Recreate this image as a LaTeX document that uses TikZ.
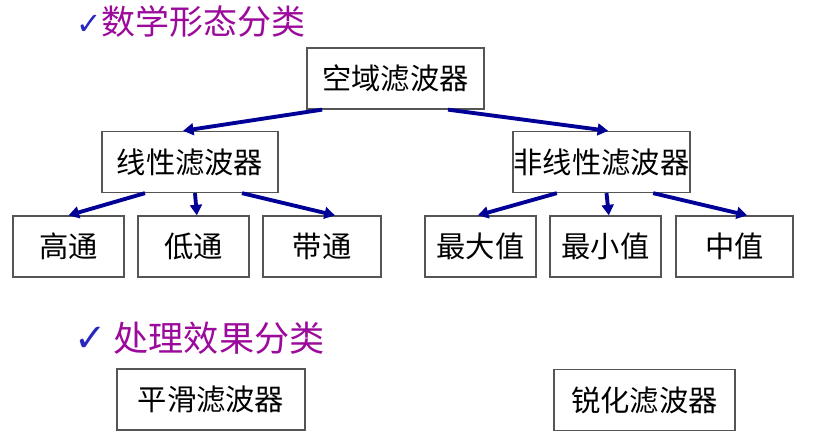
\documentclass[tikz,border=0pt]{standalone}
\usepackage{fontspec}
\setmainfont{Noto Sans CJK SC}
\newfontfamily\symfont{DejaVu Sans}
\usetikzlibrary{arrows.meta}

\definecolor{navyline}{RGB}{0,0,150}
\definecolor{titlepurple}{RGB}{155,10,155}
\definecolor{tickblue}{RGB}{40,40,190}
\definecolor{boxgray}{RGB}{85,85,85}

\tikzset{
    filterbox/.style={draw=boxgray,line width=1.1pt,minimum height=1.83cm,
        inner sep=0pt,font=\fontsize{25}{29}\selectfont},
    branch/.style={-{Triangle[length=9pt,width=10pt]},draw=navyline,
        line width=3.3pt},
}

\begin{document}
\begin{tikzpicture}[x=0.03cm,y=-0.03cm]
    \useasboundingbox (0,0) rectangle (814,445);

    % heading of the first classification
    \node[anchor=west,inner sep=0pt] (title-shape) at (76,22)
        {\textcolor{tickblue}{\symfont\fontsize{26}{30}\selectfont ✓}%
         \textcolor{titlepurple}{\fontsize{29}{33}\selectfont 数学形态分类}};

    \node[filterbox,minimum width=5.31cm] (spatial) at (395.5,78.5) {空域滤波器};
    \node[filterbox,minimum width=5.28cm] (linear) at (190,162) {线性滤波器};
    \node[filterbox,minimum width=5.31cm] (nonlinear) at (601.5,162) {非线性滤波器};

    \node[filterbox,minimum width=3.33cm] (highpass) at (68.5,246.5) {高通};
    \node[filterbox,minimum width=3.33cm] (lowpass) at (193.5,246.5) {低通};
    \node[filterbox,minimum width=3.54cm] (bandpass) at (322,246.5) {带通};

    \node[filterbox,minimum width=3.33cm] (maxval) at (480.5,246.5) {最大值};
    \node[filterbox,minimum width=3.33cm] (minval) at (605.5,246.5) {最小值};
    \node[filterbox,minimum width=3.51cm] (medval) at (734.5,246.5) {中值};

    \draw[branch] ([xshift=-2.2cm]spatial.south) -- ([xshift=-0.21cm]linear.north);
    \draw[branch] ([xshift=1.575cm]spatial.south) -- ([xshift=0.2cm]nonlinear.north);

    \draw[branch] ([xshift=-1.35cm]linear.south) -- (highpass.north);
    \draw[branch] ([xshift=0.15cm]linear.south) -- ([xshift=0.1cm]lowpass.north);
    \draw[branch] ([xshift=1.56cm]linear.south) -- ([xshift=0.39cm]bandpass.north);

    \draw[branch] ([xshift=-1.34cm]nonlinear.south) -- ([xshift=-0.08cm]maxval.north);
    \draw[branch] ([xshift=0.15cm]nonlinear.south) -- ([xshift=0.1cm]minval.north);
    \draw[branch] ([xshift=1.55cm]nonlinear.south) -- ([xshift=0.38cm]medval.north);

    % heading of the second classification
    \node[anchor=west,inner sep=0pt] (title-effect) at (74,338)
        {\textcolor{tickblue}{\symfont\fontsize{33}{37}\selectfont ✓}\hspace{6pt}%
         \textcolor{titlepurple}{\fontsize{30}{34}\selectfont 处理效果分类}};

    \node[filterbox,minimum width=5.64cm] (smoothing) at (211,399.5) {平滑滤波器};
    \node[filterbox,minimum width=5.43cm] (sharpening) at (644.5,400) {锐化滤波器};
\end{tikzpicture}
\end{document}
